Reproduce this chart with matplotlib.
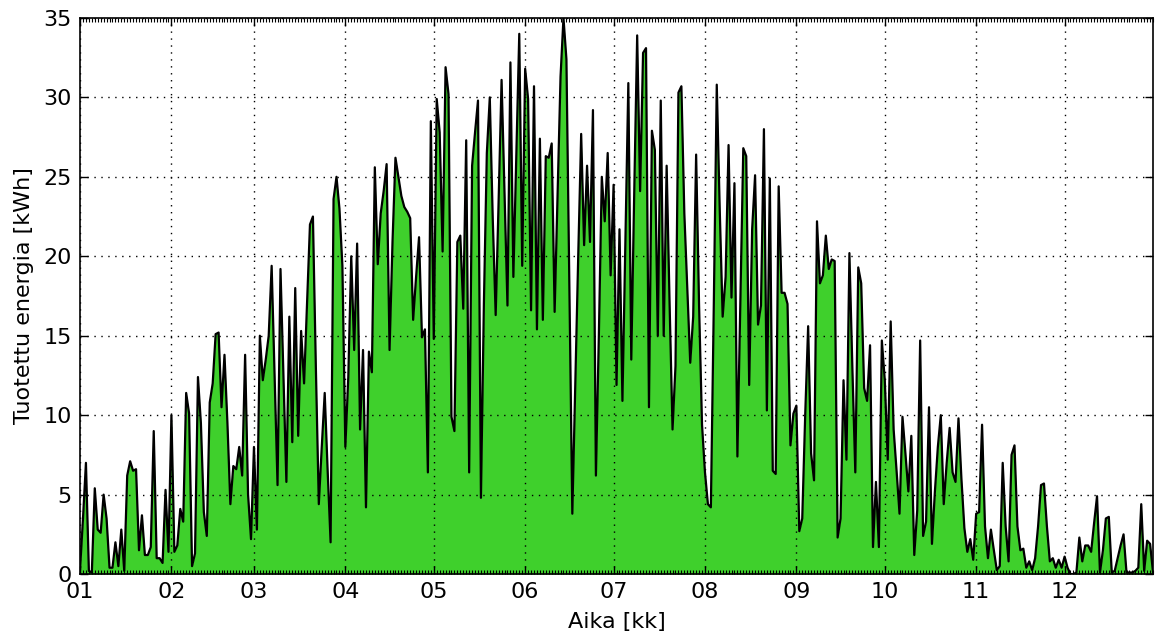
import matplotlib
matplotlib.use('Agg')
import matplotlib.pyplot as plt
import matplotlib.dates as mdates
import numpy as np
import pandas as pd

# daily produced energy [kWh], one list per month
jan = [0.3, 3.5, 7.0, 0.2, 0.1, 5.4, 2.8, 2.6, 5.0, 3.5, 0.4, 0.4, 2.0, 0.5, 2.8, 0.2,
       6.2, 7.1, 6.5, 6.6, 1.5, 3.7, 1.2, 1.2, 1.7, 9.0, 1.0, 1.0, 0.7, 5.3, 1.4]
feb = [10.0, 1.4, 1.8, 4.1, 3.3, 11.4, 10.1, 0.5, 1.3, 12.4, 9.5, 3.9, 2.4, 10.8, 12.0,
       15.1, 15.2, 10.5, 13.8, 9.5, 4.4, 6.8, 6.6, 8.0, 6.2, 13.8, 5.0, 2.2]
mar = [8.0, 2.8, 15.0, 12.2, 13.5, 15.0, 19.4, 12.5, 5.6, 19.2, 12.5, 5.8, 16.2, 8.3, 18.0,
       8.7, 15.3, 12.0, 17.0, 22.0, 22.5, 13.0, 4.4, 8.0, 11.4, 6.5, 2.0, 23.6, 25.0, 23.0, 19.4]
apr = [8.0, 12.4, 20.0, 14.1, 20.8, 9.1, 14.1, 4.2, 14.0, 12.7, 25.6, 19.5, 22.7, 24.1, 25.8,
       14.1, 20.9, 26.2, 25.0, 23.8, 23.1, 22.8, 22.4, 16.0, 18.7, 21.2, 14.9, 15.4, 6.4, 28.5]
may = [14.8, 29.9, 27.8, 20.3, 31.9, 30.2, 9.9, 9.0, 20.9, 21.3, 16.7, 27.3, 6.4, 25.7, 27.8,
       29.8, 4.8, 17.0, 26.5, 30.0, 22.4, 16.3, 23.5, 31.1, 24.0, 16.9, 32.2, 18.7, 26.4, 34.0, 19.4]
jun = [31.8, 29.9, 16.6, 30.7, 15.4, 27.4, 16.0, 26.3, 26.2, 27.1, 16.5, 24.0, 31.3, 35.0, 32.4,
       18.0, 3.8, 12.0, 20.0, 27.7, 20.7, 25.7, 20.9, 29.2, 6.2, 15.0, 25.0, 22.2, 26.5, 18.8]
jul = [24.5, 11.9, 21.7, 10.9, 21.0, 30.9, 13.5, 24.0, 33.9, 24.1, 32.8, 33.1, 10.5, 27.9, 26.7,
       15.0, 29.8, 15.0, 25.7, 17.0, 9.1, 13.1, 30.3, 30.7, 22.7, 18.0, 13.3, 16.2, 26.4, 16.9, 9.4]
aug = [6.4, 4.4, 4.2, 17.0, 30.8, 23.0, 16.2, 18.7, 27.0, 17.4, 24.6, 7.4, 17.0, 26.8, 26.3,
       11.9, 21.7, 25.1, 15.7, 16.9, 28.0, 10.3, 24.9, 6.5, 6.3, 24.4, 17.7, 17.7, 17.0, 8.1, 10.1]
sep = [10.6, 2.7, 3.5, 10.0, 15.6, 7.6, 5.9, 22.2, 18.3, 18.8, 21.3, 19.2, 19.8, 19.7, 2.3,
       3.5, 12.2, 7.2, 20.2, 13.0, 6.4, 19.3, 18.3, 11.7, 10.9, 14.4, 1.7, 5.8, 1.7, 14.7]
oct_ = [12.2, 7.2, 15.9, 9.1, 6.5, 3.8, 9.9, 7.6, 5.2, 8.7, 1.2, 4.0, 14.7, 2.4, 3.3,
        10.5, 1.9, 5.2, 8.0, 10.0, 4.4, 7.0, 9.2, 6.4, 5.8, 9.8, 6.0, 2.9, 1.4, 2.2, 0.9]
nov = [3.8, 3.9, 9.4, 3.0, 1.0, 2.8, 1.5, 0.25, 0.5, 7.0, 3.0, 0.8, 7.5, 8.1, 3.0,
       1.5, 1.6, 0.4, 0.8, 0.25, 1.0, 3.0, 5.6, 5.7, 3.0, 0.8, 1.0, 0.4, 0.9, 0.4]
dec = [1.1, 0.4, 0.0, 0.0, 0.1, 2.3, 0.8, 1.8, 1.8, 1.4, 3.2, 4.9, 0.1, 1.5, 3.5,
       3.6, 0.1, 0.2, 1.0, 1.8, 2.5, 0.1, 0.1, 0.1, 0.2, 0.4, 4.4, 0.2, 2.1, 1.9, 0.1]

energy = np.array(jan + feb + mar + apr + may + jun + jul + aug + sep + oct_ + nov + dec)
days = pd.date_range('2015-01-01', periods=len(energy), freq='D')

plt.rcParams['font.family'] = 'DejaVu Sans'
plt.rcParams['font.size'] = 16

fig = plt.figure(figsize=(11.55, 6.4), dpi=100)
ax = fig.add_axes([0.0693, 0.103, 0.929, 0.869])

ax.fill_between(days, energy, 0, color='#3fd02c', linewidth=0)
ax.plot(days, energy, color='k', linewidth=1.6)

ax.set_xlim(days[0], days[-1])
ax.set_ylim(0, 35)
ax.set_yticks(np.arange(0, 36, 5))

ax.xaxis.set_major_locator(mdates.MonthLocator())
ax.xaxis.set_major_formatter(mdates.DateFormatter('%m'))
ax.xaxis.set_minor_locator(mdates.DayLocator())

ax.tick_params(which='both', direction='in', top=True, right=True, labelsize=16)
ax.tick_params(which='major', length=6, width=1)
ax.tick_params(which='minor', length=3, width=0.8)
ax.tick_params(axis='x', which='major', pad=6)
ax.tick_params(axis='y', which='major', pad=6)

ax.grid(True, which='major', color='k', linestyle=(0, (1, 4)), linewidth=1)
for sp in ax.spines.values():
    sp.set_linewidth(1.2)

ax.set_xlabel('Aika [kk]', fontsize=16, labelpad=7)
ax.set_ylabel('Tuotettu energia [kWh]', fontsize=16, labelpad=7)

fig.savefig('out.png', dpi=100)
